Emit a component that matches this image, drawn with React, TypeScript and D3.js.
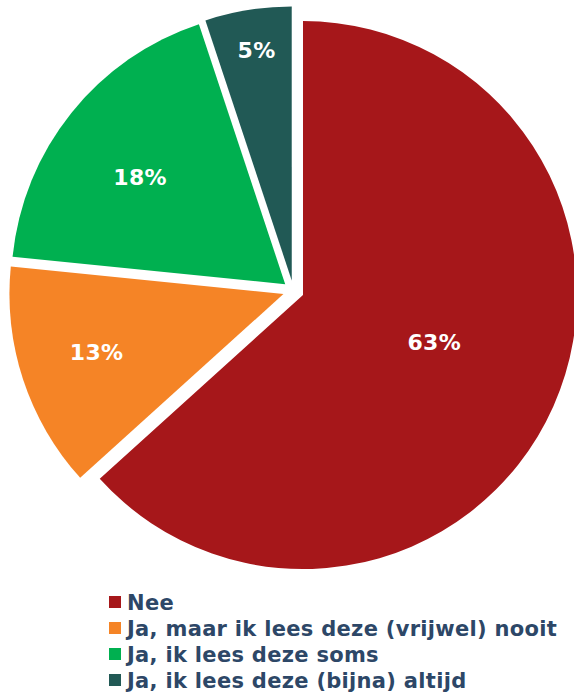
import React from "react";
import * as d3 from "d3";

const categories = [
  "Nee",
  "Ja, maar ik lees deze (vrijwel) nooit",
  "Ja, ik lees deze soms",
  "Ja, ik lees deze (bijna) altijd",
];
const values = [63.3, 13.3, 18.3, 5.1];
const labels = ["63%", "13%", "18%", "5%"];
const colors = ["#A6171A", "#F58426", "#00B050", "#215955"];

const W = 574;
const H = 693;
const CX = 293.4;
const CY = 290.8;
const R = 274;
const EXPLODE = 10.5;
const labelRadius = [0.5, 0.71, 0.66, 0.85];
const labelNudge = [
  [6, -9],
  [-2, -3],
  [-4, 6],
  [2, 0],
];
const TEXT = "#2D4767";

export default function App() {
  const pie = d3
    .pie<number>()
    .sort(null)
    .value((d) => d)
    .startAngle(0)
    .endAngle(2 * Math.PI);
  const arcs = pie(values);
  const arc = d3.arc<d3.PieArcDatum<number>>().innerRadius(0).outerRadius(R);

  const legendY = d3.scaleBand<number>().domain(d3.range(categories.length)).range([589, 693]);

  return (
    <svg
      width={W}
      height={H}
      style={{ position: "fixed", left: 0, top: 0, background: "#fff" }}
      fontFamily="'DejaVu Sans', Verdana, sans-serif"
    >
      <g transform={`translate(${CX},${CY})`}>
        {arcs.map((a, i) => {
          const mid = (a.startAngle + a.endAngle) / 2;
          const ox = EXPLODE * Math.sin(mid);
          const oy = -EXPLODE * Math.cos(mid);
          const lr = R * labelRadius[i];
          return (
            <g key={i} transform={`translate(${ox},${oy})`}>
              <path d={arc(a) || ""} fill={colors[i]} />
              <text
                x={lr * Math.sin(mid) + labelNudge[i][0]}
                y={-lr * Math.cos(mid) + labelNudge[i][1]}
                textAnchor="middle"
                dy="0.36em"
                fill="#fff"
                fontWeight="bold"
                fontSize={22}
                letterSpacing={0.3}
              >
                {labels[i]}
              </text>
            </g>
          );
        })}
      </g>
      {categories.map((c, i) => {
        const y = (legendY(i) as number) + legendY.bandwidth() / 2;
        return (
          <g key={c}>
            <rect x={109} y={y - 6} width={12} height={12} fill={colors[i]} />
            <text x={127} y={y} dy="0.36em" fill={TEXT} fontWeight="bold" fontSize={21} letterSpacing={0.3}>
              {c}
            </text>
          </g>
        );
      })}
    </svg>
  );
}
